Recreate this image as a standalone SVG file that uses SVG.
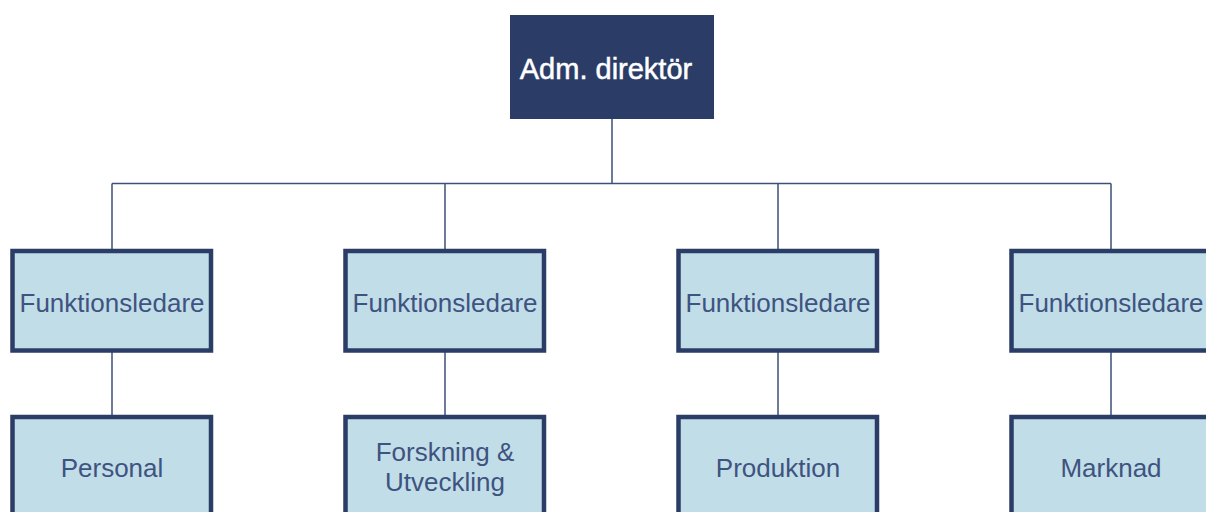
<svg xmlns="http://www.w3.org/2000/svg" width="1206" height="512" viewBox="0 0 1206 512">
  <style>
    .conn { fill: none; stroke: #3d5078; stroke-width: 1.5; }
    .unit { fill: #c1dde8; stroke: #2b3d67; stroke-width: 4.5; }
    .lbl { font-family: "Liberation Sans", Arial, sans-serif; font-size: 26px; fill: #3f5380; text-anchor: middle; }
    .head { font-family: "Liberation Sans", Arial, sans-serif; font-size: 29px; fill: #ffffff; stroke: #ffffff; stroke-width: 0.5; text-anchor: middle; }
  </style>
  <rect width="1206" height="512" fill="#ffffff"/>

  <g id="connectors">
    <path class="conn" d="M612 119 V183.5 M112 183.5 H1111 M112 183.5 V249 M445 183.5 V249 M778 183.5 V249 M1111 183.5 V249"/>
    <path class="conn" d="M112 352 V415 M445 352 V415 M778 352 V415 M1111 352 V415"/>
  </g>

  <g id="ceo">
    <rect x="510" y="15" width="204" height="104" fill="#2b3d67"/>
    <text class="head" x="606" y="79">Adm. direktör</text>
  </g>

  <g id="lead-1">
    <rect class="unit" x="12.5" y="251" width="198.5" height="99.5"/>
    <text class="lbl" x="112" y="312">Funktionsledare</text>
  </g>
  <g id="lead-2">
    <rect class="unit" x="345.5" y="251" width="198.5" height="99.5"/>
    <text class="lbl" x="445" y="312">Funktionsledare</text>
  </g>
  <g id="lead-3">
    <rect class="unit" x="678.5" y="251" width="198.5" height="99.5"/>
    <text class="lbl" x="778" y="312">Funktionsledare</text>
  </g>
  <g id="lead-4">
    <rect class="unit" x="1011.5" y="251" width="198.5" height="99.5"/>
    <text class="lbl" x="1111" y="312">Funktionsledare</text>
  </g>

  <g id="dept-personal">
    <rect class="unit" x="12.5" y="417" width="198.5" height="99.5"/>
    <text class="lbl" x="112" y="477">Personal</text>
  </g>
  <g id="dept-fou">
    <rect class="unit" x="345.5" y="417" width="198.5" height="99.5"/>
    <text class="lbl" x="445" y="461">Forskning &amp;</text>
    <text class="lbl" x="445" y="491">Utveckling</text>
  </g>
  <g id="dept-produktion">
    <rect class="unit" x="678.5" y="417" width="198.5" height="99.5"/>
    <text class="lbl" x="778" y="477">Produktion</text>
  </g>
  <g id="dept-marknad">
    <rect class="unit" x="1011.5" y="417" width="198.5" height="99.5"/>
    <text class="lbl" x="1111" y="477">Marknad</text>
  </g>
</svg>
